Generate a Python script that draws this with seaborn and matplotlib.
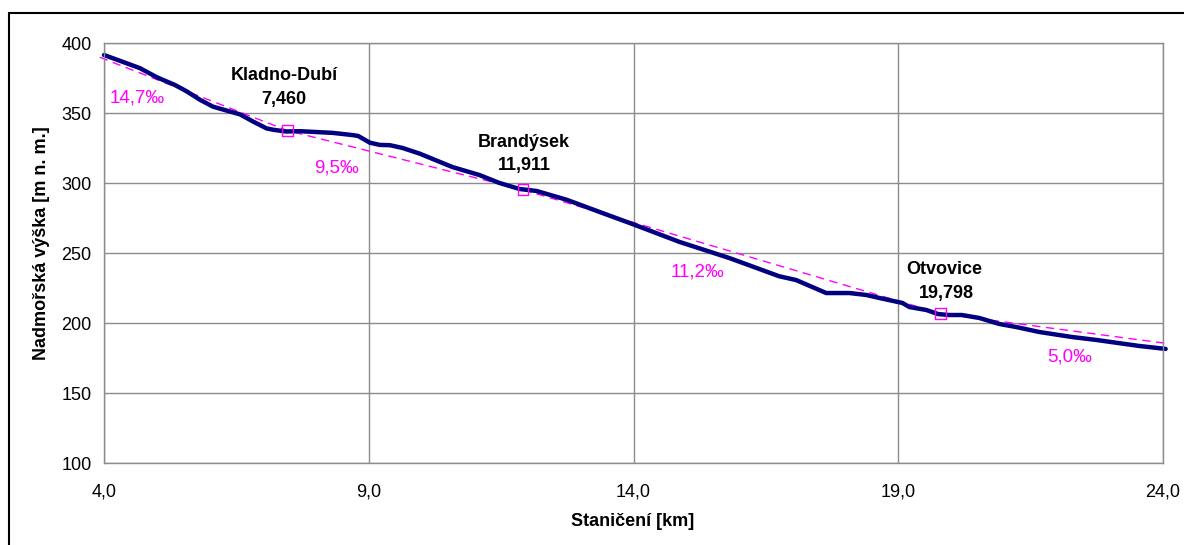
import numpy as np
import pandas as pd
import matplotlib
matplotlib.use("Agg")
import matplotlib.pyplot as plt
from matplotlib.lines import Line2D
import seaborn as sns

# profile of the line: stationing [km] and altitude [m]
km = [4.0, 4.25, 4.68, 5.0, 5.34, 5.56, 5.81, 6.06, 6.57, 6.81, 7.07, 7.2, 7.43,
      7.7, 8.32, 8.7, 8.8, 9.02, 9.21, 9.4, 9.64, 9.96, 10.58, 11.09, 11.47,
      11.85, 12.17, 12.74, 13.36, 13.98, 14.87, 15.81, 16.75, 17.07, 17.64,
      18.08, 18.4, 18.64, 19.08, 19.21, 19.53, 19.75, 19.96, 20.2, 20.53,
      20.91, 21.23, 21.66, 22.28, 22.74, 23.55, 24.05]
alt = [391.4, 388.0, 382.0, 375.5, 370.0, 365.5, 359.5, 354.5, 349.0, 344.0,
       339.0, 338.0, 336.8, 337.0, 335.8, 334.2, 333.6, 328.8, 327.2, 327.0,
       325.0, 321.0, 311.4, 305.7, 300.0, 295.7, 294.3, 288.0, 279.3, 270.7,
       257.9, 246.4, 233.4, 230.7, 221.4, 221.4, 220.0, 217.9, 214.3, 211.4,
       209.3, 206.4, 205.7, 205.7, 203.6, 199.3, 197.1, 193.6, 190.0, 187.9,
       183.6, 181.5]

# stations
st_names = ["Kladno-Dubí", "Brandýsek", "Otvovice"]
st_km = [7.460, 11.911, 19.798]
st_alt = [337.5, 295.2, 206.8]
st_labels = ["7,460", "11,911", "19,798"]

# idealised gradient line
grade_km = [3.92, 7.460, 11.911, 19.798, 24.05]
grade_alt = [389.8, 337.5, 295.2, 206.8, 185.5]
grade_txt = ["14,7‰", "9,5‰", "11,2‰", "5,0‰"]
grade_pos = [(4.62, 360.7), (8.4, 310.7), (15.2, 236.4), (22.23, 175.7)]

df = pd.DataFrame({"km": km, "alt": alt})
gdf = pd.DataFrame({"km": grade_km, "alt": grade_alt})

sns.set_style("white")
plt.rcParams["font.family"] = ["Liberation Sans", "DejaVu Sans"]
plt.rcParams["text.color"] = "black"
plt.rcParams["axes.labelcolor"] = "black"

fig = plt.figure(figsize=(11.84, 5.45), dpi=100)
ax = fig.add_axes([104 / 1184, 1 - 463 / 545, (1163 - 104) / 1184, (463 - 43) / 545])

grid_c = "#8c8c8c"
ax.set_xlim(4, 24)
ax.set_ylim(100, 400)
ax.set_xticks([4, 9, 14, 19, 24])
ax.set_yticks(range(100, 401, 50))
ax.set_xticklabels(["4,0", "9,0", "14,0", "19,0", "24,0"])
ax.grid(True, color=grid_c, linewidth=1.0)
for s in ax.spines.values():
    s.set_color(grid_c)
    s.set_linewidth(1.0)
ax.tick_params(axis="both", direction="out", length=5, width=1, color=grid_c,
               labelsize=13, labelcolor="black", pad=4)
ax.tick_params(axis="x", pad=10)

sns.lineplot(data=gdf, x="km", y="alt", ax=ax, color="#ff00ff", linewidth=1.0,
             linestyle=(0, (6, 4)), estimator=None, sort=False, clip_on=False)
sns.lineplot(data=df, x="km", y="alt", ax=ax, color="#000080", linewidth=3.2,
             estimator=None, sort=False, clip_on=False)
ax.scatter(st_km, st_alt, marker="s", s=60, facecolors="none", edgecolors="#ff00ff",
           linewidths=1.0, zorder=5)

# label offsets from the station marker, in pixels (name, number)
px = 0.72
offsets = [((-3, 55), (-3, 31)), ((1, 47), (1, 24)), ((4, 44), (6, 20))]
for name, x, y, lab, (o1, o2) in zip(st_names, st_km, st_alt, st_labels, offsets):
    ax.annotate(name, (x, y), xytext=(o1[0] * px, o1[1] * px), textcoords="offset points",
                ha="center", va="center", fontsize=13, fontweight="bold")
    ax.annotate(lab, (x, y), xytext=(o2[0] * px, o2[1] * px), textcoords="offset points",
                ha="center", va="center", fontsize=13, fontweight="bold")

for t, (x, y) in zip(grade_txt, grade_pos):
    ax.text(x, y, t, color="#ff00ff", fontsize=13.5, ha="center", va="center")

ax.set_xlabel("Staničení [km]", fontsize=13, fontweight="bold")
ax.set_ylabel("Nadmořská výška [m n. m.]", fontsize=13, fontweight="bold")
ax.xaxis.label.set_va("center")
ax.yaxis.label.set_va("center")
ax.xaxis.set_label_coords((633 - 104) / 1059, (463 - 522) / 420)
ax.yaxis.set_label_coords((42 - 104) / 1059, (463 - 243) / 420)

# outer frame (top and left visible only)
fig.add_artist(Line2D([9 / 1184, 9 / 1184], [0, 1 - 13 / 545], color="black", linewidth=1.5))
fig.add_artist(Line2D([9 / 1184, 1], [1 - 13 / 545, 1 - 13 / 545], color="black", linewidth=1.5))

fig.savefig("out.png", dpi=100)
